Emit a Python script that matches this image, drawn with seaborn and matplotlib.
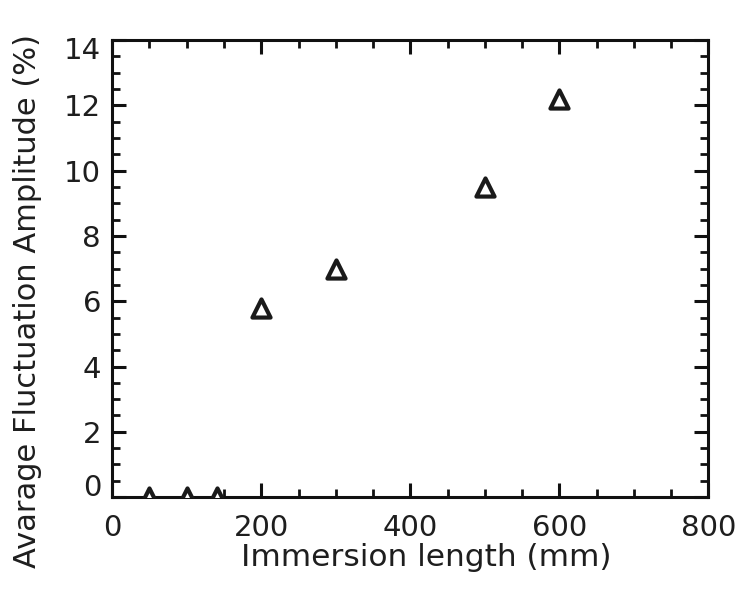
import matplotlib
matplotlib.use("Agg")
import matplotlib.pyplot as plt
from matplotlib.ticker import MultipleLocator
from matplotlib.transforms import ScaledTranslation
import pandas as pd
import seaborn as sns

# Immersion length (mm) and average fluctuation amplitude (%)
immersion_mm = [50, 100, 140, 200, 300, 500, 600]
amplitude_pct = [0.0, 0.0, 0.0, 5.8, 7.0, 9.5, 12.2]

x_ticks = [0, 200, 400, 600, 800]
y_ticks = [0, 2, 4, 6, 8, 10, 12, 14]

df = pd.DataFrame({"length": immersion_mm, "amplitude": amplitude_pct})

sns.set_theme(style="ticks")
plt.rcParams["font.family"] = ["DejaVu Sans"]

fig = plt.figure(figsize=(7.38, 5.89), dpi=100)
ax = fig.add_axes([0.152, 0.156, 0.808, 0.776])

sns.scatterplot(
    data=df, x="length", y="amplitude", ax=ax,
    marker="^", s=170, facecolor="white", edgecolor="#1a1a1a",
    linewidth=3.0, zorder=3, clip_on=True,
)

ax.set_xlim(0, 800)
ax.set_ylim(0, 14)
ax.set_xticks(x_ticks)
ax.set_yticks(y_ticks)
ax.xaxis.set_minor_locator(MultipleLocator(50))
ax.yaxis.set_minor_locator(MultipleLocator(0.5))

for sp in ax.spines.values():
    sp.set_linewidth(2.2)
    sp.set_color("#111111")
    sp.set_visible(True)

ax.tick_params(which="both", direction="in", top=True, right=True,
               color="#111111", labelcolor="#1e1e1e", labelsize=21)
ax.tick_params(which="major", length=10, width=2.2)
ax.tick_params(axis="y", which="major", pad=8)
ax.tick_params(axis="x", which="major", pad=12)
ax.tick_params(which="minor", length=5.5, width=2.0)

ax.set_xlabel("Immersion length (mm)", fontsize=22.5, color="#1e1e1e", va="top")
ax.set_ylabel("Avarage Fluctuation Amplitude (%)", fontsize=22, color="#1e1e1e")
ax.xaxis.set_label_coords(0.527, -0.1)
ax.yaxis.set_label_coords(-0.118, 0.43)

# nudge the end labels of the y axis inside the frame
ylabels = ax.get_yticklabels()
ylabels[0].set_transform(ylabels[0].get_transform()
                         + ScaledTranslation(0, 9 / 72, fig.dpi_scale_trans))
ylabels[-1].set_transform(ylabels[-1].get_transform()
                          + ScaledTranslation(0, -6 / 72, fig.dpi_scale_trans))

fig.savefig("out.png", dpi=100, facecolor="white")
